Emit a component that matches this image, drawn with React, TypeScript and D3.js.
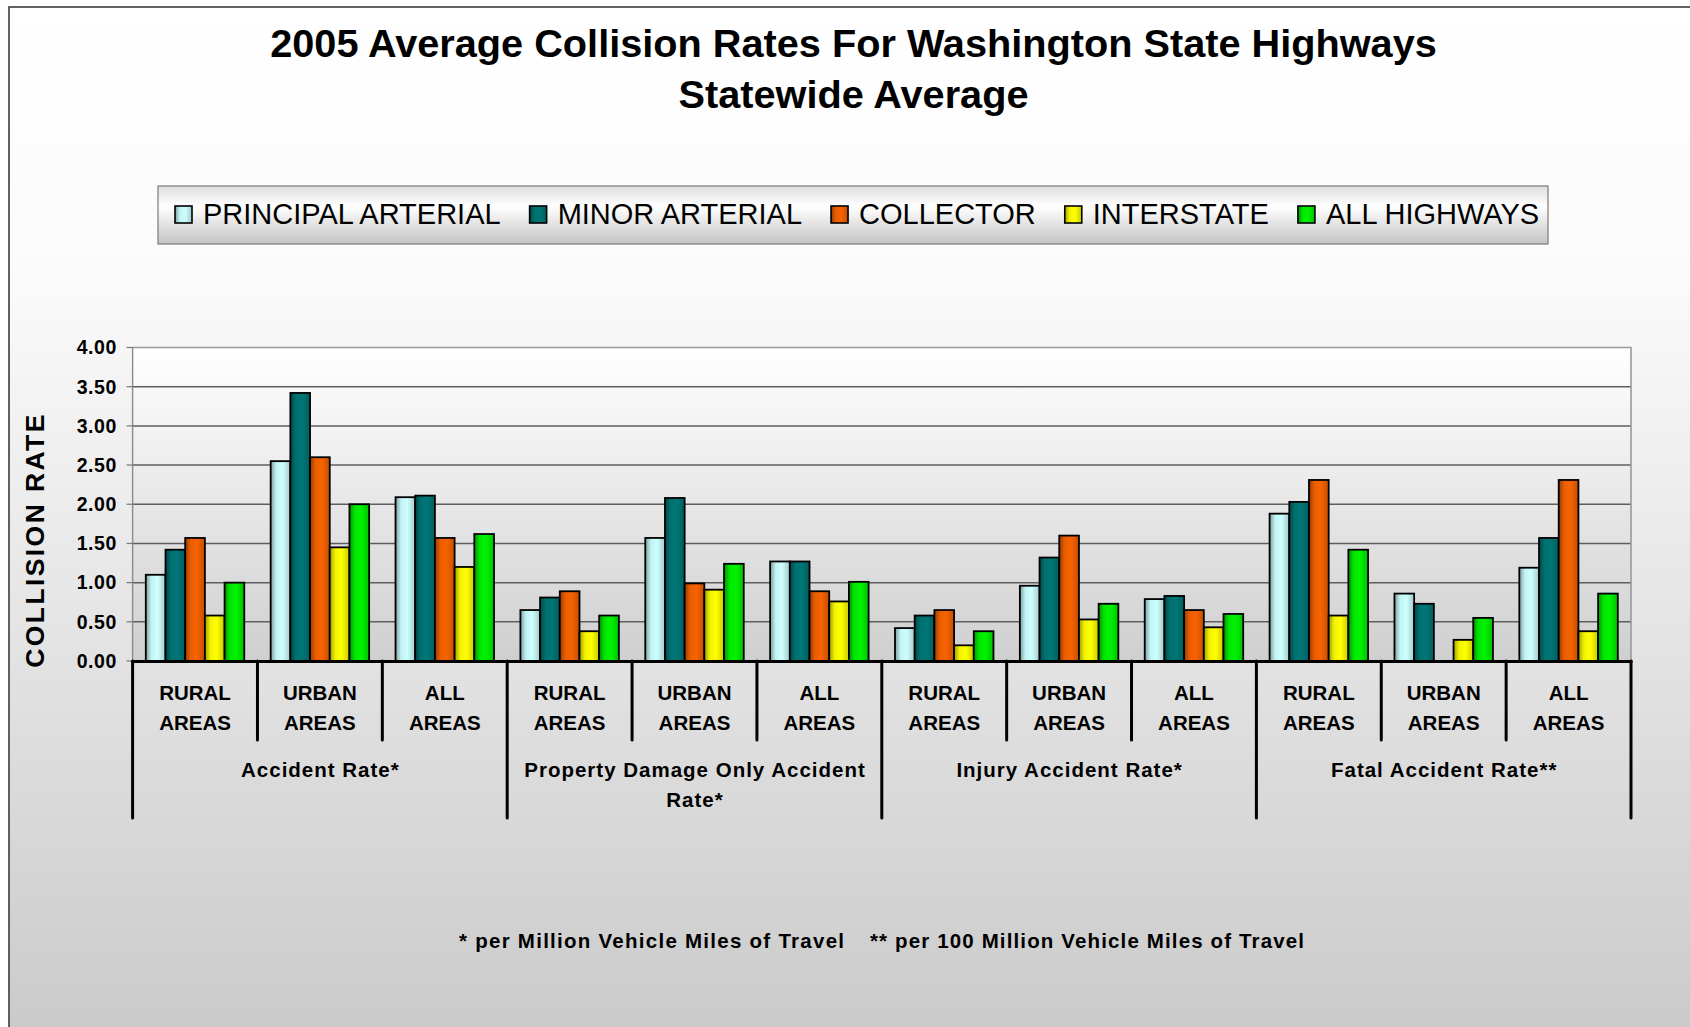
import React, { useEffect, useRef } from "react";
import * as d3 from "d3";

// Road classes (series) and their fill colours
const seriesNames = ["PRINCIPAL ARTERIAL", "MINOR ARTERIAL", "COLLECTOR", "INTERSTATE", "ALL HIGHWAYS"];
const seriesColors = ["#c2f2f2", "#007070", "#ea5e00", "#f2f200", "#00e600"];

// Rate groups, each split into rural / urban / all areas
const groupLines = [["Accident Rate*"], ["Property Damage Only Accident", "Rate*"], ["Injury Accident Rate*"], ["Fatal Accident Rate**"]];
const areaLines = [["RURAL", "AREAS"], ["URBAN", "AREAS"], ["ALL", "AREAS"]];

// Collision rates per category (4 groups x 3 areas)
const principalArterial = [1.10, 2.55, 2.09, 0.65, 1.57, 1.27, 0.42, 0.96, 0.79, 1.88, 0.86, 1.19];
const minorArterial = [1.42, 3.42, 2.11, 0.81, 2.08, 1.27, 0.58, 1.32, 0.83, 2.03, 0.73, 1.57];
const collector = [1.57, 2.60, 1.57, 0.89, 0.99, 0.89, 0.65, 1.60, 0.65, 2.31, 0.00, 2.31];
const interstate = [0.58, 1.45, 1.20, 0.38, 0.91, 0.76, 0.20, 0.53, 0.43, 0.58, 0.27, 0.38];
const allHighways = [1.00, 2.00, 1.62, 0.58, 1.24, 1.01, 0.38, 0.73, 0.60, 1.42, 0.55, 0.86];

const yTicks = [0, 0.5, 1, 1.5, 2, 2.5, 3, 3.5, 4];
const titleLines = ["2005 Average Collision Rates For Washington State Highways", "Statewide Average"];
const yAxisTitle = "COLLISION RATE";
const footnotes = ["* per Million Vehicle Miles of Travel", "** per 100 Million Vehicle Miles of Travel"];

const W = 1690;
const H = 1027;
const FONT = "'Liberation Sans', Arial, Helvetica, sans-serif";

export default function App() {
  const ref = useRef<SVGSVGElement | null>(null);

  useEffect(() => {
    const svg = d3.select(ref.current);
    svg.selectAll("*").remove();

    const values = [principalArterial, minorArterial, collector, interstate, allHighways];
    const categories = d3.range(groupLines.length * areaLines.length);

    const defs = svg.append("defs");
    const bg = defs.append("linearGradient").attr("id", "chartBg").attr("x1", 0).attr("y1", 0).attr("x2", 0).attr("y2", 1);
    bg.append("stop").attr("offset", "0%").attr("stop-color", "#ffffff");
    bg.append("stop").attr("offset", "25%").attr("stop-color", "#fbfbfb");
    bg.append("stop").attr("offset", "60%").attr("stop-color", "#e4e4e4");
    bg.append("stop").attr("offset", "100%").attr("stop-color", "#c9c9c9");

    const pbg = defs.append("linearGradient").attr("id", "plotBg").attr("x1", 0).attr("y1", 0).attr("x2", 0).attr("y2", 1);
    pbg.append("stop").attr("offset", "0%").attr("stop-color", "#ffffff");
    pbg.append("stop").attr("offset", "100%").attr("stop-color", "#cfcfcf");

    const lbg = defs.append("linearGradient").attr("id", "legendBg").attr("x1", 0).attr("y1", 0).attr("x2", 0).attr("y2", 1);
    lbg.append("stop").attr("offset", "0%").attr("stop-color", "#dedede");
    lbg.append("stop").attr("offset", "35%").attr("stop-color", "#ffffff");
    lbg.append("stop").attr("offset", "100%").attr("stop-color", "#c4c4c4");

    seriesColors.forEach((c, i) => {
      const base = d3.color(c)!;
      const g = defs.append("linearGradient").attr("id", `bar${i}`).attr("x1", 0).attr("y1", 0).attr("x2", 1).attr("y2", 0);
      g.append("stop").attr("offset", "0%").attr("stop-color", base.darker(1.2).toString());
      g.append("stop").attr("offset", "28%").attr("stop-color", base.toString());
      g.append("stop").attr("offset", "60%").attr("stop-color", base.brighter(0.15).toString());
      g.append("stop").attr("offset", "100%").attr("stop-color", base.darker(0.5).toString());
    });

    // Chart area with its frame
    svg.append("rect").attr("x", 0).attr("y", 0).attr("width", W).attr("height", H).attr("fill", "#ffffff");
    svg.append("rect").attr("x", 9).attr("y", 7).attr("width", W + 20).attr("height", H + 20)
      .attr("fill", "url(#chartBg)").attr("stroke", "#3c3c3c").attr("stroke-width", 1.6);

    // Title
    titleLines.forEach((t, i) => {
      svg.append("text").attr("x", 853.5).attr("y", i === 0 ? 56.5 : 108)
        .attr("text-anchor", "middle").attr("font-family", FONT).attr("font-weight", "bold")
        .attr("font-size", 39.7).attr("fill", "#000").text(t);
    });

    // Legend
    const legend = svg.append("g");
    legend.append("rect").attr("x", 158).attr("y", 186).attr("width", 1390).attr("height", 58)
      .attr("fill", "url(#legendBg)").attr("stroke", "#7a7a7a").attr("stroke-width", 1.2);
    let lx = 175;
    seriesNames.forEach((name, i) => {
      legend.append("rect").attr("x", lx).attr("y", 206).attr("width", 17).attr("height", 17)
        .attr("fill", `url(#bar${i})`).attr("stroke", "#000").attr("stroke-width", 1.6);
      const t = legend.append("text").attr("x", lx + 28).attr("y", 224)
        .attr("font-family", FONT).attr("font-size", 29).attr("fill", "#000").text(name);
      const tw = (t.node() as SVGTextElement).getComputedTextLength();
      lx = lx + 28 + tw + 29;
    });

    // Plot area
    const left = 132.6, right = 1631, top = 347.5, bottom = 661;
    const x0 = d3.scaleBand<number>().domain(categories).range([left, right]).padding(0);
    const x1 = d3.scaleBand<number>().domain(d3.range(seriesNames.length)).range([0, x0.bandwidth()])
      .paddingInner(0).paddingOuter(0.67);
    const y = d3.scaleLinear().domain([0, 4]).range([bottom, top]);

    svg.append("rect").attr("x", left).attr("y", top).attr("width", right - left).attr("height", bottom - top)
      .attr("fill", "url(#plotBg)");

    svg.append("g").selectAll("line").data(yTicks.filter((v) => v > 0 && v < 4)).join("line")
      .attr("x1", left).attr("x2", right).attr("y1", (d) => y(d)).attr("y2", (d) => y(d))
      .attr("stroke", "#5e5e5e").attr("stroke-width", 1.5);
    // top and right frame of the plot
    svg.append("path").attr("d", `M${left},${y(4)}H${right}V${bottom}`)
      .attr("fill", "none").attr("stroke", "#9a9a9a").attr("stroke-width", 1.6);
    svg.append("line").attr("x1", left).attr("x2", left).attr("y1", y(4)).attr("y2", bottom)
      .attr("stroke", "#8a8a8a").attr("stroke-width", 1.4);

    // Y axis ticks and labels
    const yAxis = svg.append("g");
    yAxis.selectAll("line").data(yTicks).join("line")
      .attr("x1", left - 6).attr("x2", left).attr("y1", (d) => y(d)).attr("y2", (d) => y(d))
      .attr("stroke", "#777").attr("stroke-width", 1.2);
    yAxis.selectAll("text").data(yTicks).join("text")
      .attr("x", 117).attr("y", (d) => y(d)).attr("dy", "0.35em").attr("text-anchor", "end")
      .attr("font-family", FONT).attr("font-weight", "bold").attr("font-size", 19.5)
      .attr("letter-spacing", 0.6).attr("fill", "#000").text((d) => d3.format(".2f")(d));

    svg.append("text").attr("transform", "translate(44,540) rotate(-90)").attr("text-anchor", "middle")
      .attr("font-family", FONT).attr("font-weight", "bold").attr("font-size", 26.5)
      .attr("letter-spacing", 2.4).attr("fill", "#000").text(yAxisTitle);

    // Bars
    const bars = svg.append("g");
    values.forEach((vals, s) => {
      bars.append("g").selectAll("rect").data(vals.map((v, c) => ({ v, c }))).join("rect")
        .attr("x", (d) => x0(d.c)! + x1(s)!)
        .attr("width", x1.bandwidth())
        .attr("y", (d) => y(d.v))
        .attr("height", (d) => y(0) - y(d.v))
        .attr("fill", `url(#bar${s})`)
        .attr("stroke", (d) => (d.v > 0 ? "#000" : "none"))
        .attr("stroke-width", 1.8);
    });

    // Category axis: baseline, separators and labels
    const xAxis = svg.append("g");
    xAxis.append("line").attr("x1", left - 1).attr("x2", right + 1.5).attr("y1", bottom + 0.5).attr("y2", bottom + 0.5)
      .attr("stroke", "#000").attr("stroke-width", 3.2);
    const boundaries = d3.range(categories.length + 1);
    xAxis.selectAll("line.sep").data(boundaries).join("line").attr("class", "sep")
      .attr("x1", (d) => left + d * x0.step()).attr("x2", (d) => left + d * x0.step())
      .attr("y1", bottom).attr("y2", (d) => (d % areaLines.length === 0 ? 818 : 740))
      .attr("stroke", "#000").attr("stroke-width", 3).attr("stroke-linecap", "round");

    categories.forEach((c) => {
      const lines = areaLines[c % areaLines.length];
      const cx = x0(c)! + x0.bandwidth() / 2;
      lines.forEach((ln, k) => {
        xAxis.append("text").attr("x", cx).attr("y", 700 + k * 30).attr("text-anchor", "middle")
          .attr("font-family", FONT).attr("font-weight", "bold").attr("font-size", 20.5)
          .attr("fill", "#000").text(ln);
      });
    });

    groupLines.forEach((lines, g) => {
      const cx = left + (g * areaLines.length + areaLines.length / 2) * x0.step();
      lines.forEach((ln, k) => {
        xAxis.append("text").attr("x", cx + 0.5).attr("y", 777 + k * 29.5).attr("text-anchor", "middle")
          .attr("font-family", FONT).attr("font-weight", "bold").attr("font-size", 20.5)
          .attr("letter-spacing", 1).attr("fill", "#000").text(ln);
      });
    });

    // Footnotes
    const fnX = [459, 870];
    const fnLen = [385, 434];
    footnotes.forEach((t, i) => {
      svg.append("text").attr("x", fnX[i]).attr("y", 947.5)
        .attr("font-family", FONT).attr("font-weight", "bold").attr("font-size", 20.5)
        .attr("textLength", fnLen[i]).attr("lengthAdjust", "spacing")
        .attr("fill", "#000").text(t);
    });
  }, []);

  return (
    <svg
      ref={ref}
      width={W}
      height={H}
      style={{ position: "absolute", left: 0, top: 0, display: "block" }}
    />
  );
}
